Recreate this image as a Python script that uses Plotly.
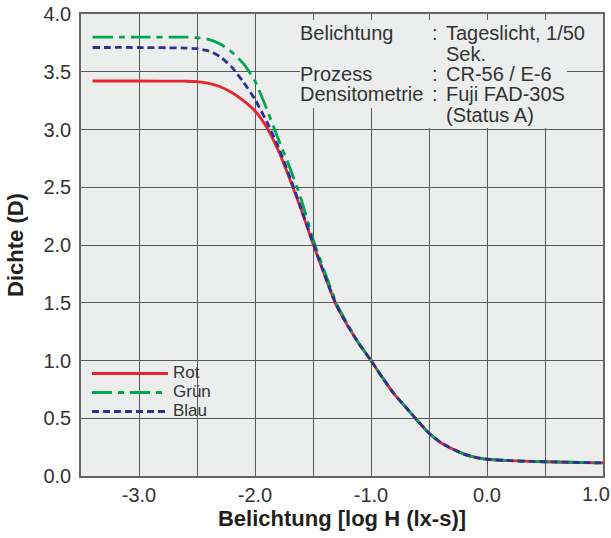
import plotly.graph_objects as go

# ---------------- data ----------------
log_h = [-3.4, -3.0, -2.6, -2.5, -2.4, -2.3, -2.2, -2.1, -2.0, -1.9, -1.8, -1.7,
         -1.6, -1.5, -1.4, -1.3, -1.2, -1.1, -1.0, -0.9, -0.8, -0.7, -0.6, -0.5,
         -0.4, -0.3, -0.2, -0.1, 0.0, 0.2, 0.4, 0.6, 0.8, 1.0]

rot = [3.42, 3.42, 3.418, 3.415, 3.40, 3.37, 3.32, 3.25, 3.16, 3.02, 2.82, 2.57,
       2.30, 2.01, 1.74, 1.48, 1.30, 1.14, 1.00, 0.85, 0.71, 0.595, 0.48, 0.37,
       0.29, 0.235, 0.19, 0.162, 0.145, 0.133, 0.126, 0.121, 0.117, 0.113]

gruen = [3.80, 3.80, 3.80, 3.795, 3.78, 3.74, 3.67, 3.57, 3.42, 3.18, 2.92, 2.67,
         2.39, 2.05, 1.77, 1.50, 1.31, 1.14, 1.00, 0.85, 0.71, 0.595, 0.48, 0.37,
         0.29, 0.235, 0.19, 0.162, 0.145, 0.133, 0.126, 0.121, 0.117, 0.113]

blau = [3.71, 3.71, 3.705, 3.70, 3.68, 3.63, 3.54, 3.41, 3.26, 3.07, 2.85, 2.59,
        2.31, 2.02, 1.74, 1.485, 1.30, 1.14, 1.00, 0.85, 0.71, 0.595, 0.48, 0.37,
        0.29, 0.235, 0.19, 0.162, 0.145, 0.133, 0.126, 0.121, 0.117, 0.113]

series_names = ["Rot", "Grün", "Blau"]

x_tickvals = [-3.5, -3.0, -2.5, -2.0, -1.5, -1.0, -0.5, 0.0, 0.5, 1.0]
x_ticktext = ["", "-3.0", "", "-2.0", "", "-1.0", "", "0.0", "", ""]
x_last_label = "1.0"   # drawn separately so that it stays inside the picture
y_tickvals = [0.0, 0.5, 1.0, 1.5, 2.0, 2.5, 3.0, 3.5, 4.0]
y_ticktext = ["0.0", "0.5", "1.0", "1.5", "2.0", "2.5", "3.0", "3.5", "4.0"]

info_labels = ["Belichtung", "Prozess", "Densitometrie"]
info_values = ["Tageslicht, 1/50", "Sek.", "CR-56 / E-6", "Fuji FAD-30S", "(Status A)"]

# ---------------- style ----------------
FONT = "Liberation Sans, Arial, Helvetica, sans-serif"
PLOT_BG = "#eceeee"
W, H = 611, 538
ML, MR, MT, MB = 81, 8, 14, 62
PW, PH = W - ML - MR, H - MT - MB


def px_x(px):
    return (px - ML) / PW


def px_y(py):
    return (H - MB - py) / PH


fig = go.Figure()
styles = [
    dict(color="#e8262e", width=2.8),
    dict(color="#00a650", width=2.8, dash="20px,6px,6px,6px"),
    dict(color="#2e3192", width=2.8, dash="7px,4px"),
]
for name, ys, st in zip(series_names, [rot, gruen, blau], styles):
    fig.add_trace(go.Scatter(
        x=log_h, y=ys, mode="lines", name='<span style="font-size:17px">%s</span>' % name,
        line=dict(shape="spline", smoothing=0.6, **st), hoverinfo="skip",
    ))

# ---- info text block ----
annos = []
txt_font = dict(family=FONT, size=20, color="#333333")


def bg(left, right, top, bottom):
    # background patch (same colour as plot area) hiding the grid behind the text block
    annos.append(dict(
        text=" ", xref="paper", yref="paper",
        x=px_x(left), y=px_y(top), xanchor="left", yanchor="top",
        width=right - left, height=bottom - top,
        showarrow=False, bgcolor=PLOT_BG, borderpad=0, borderwidth=0, font=txt_font,
    ))


def txt(text, xpx, ypx, xanchor="left"):
    annos.append(dict(
        text=text, xref="paper", yref="paper",
        x=px_x(xpx), y=px_y(ypx), xanchor=xanchor, yanchor="middle",
        showarrow=False, borderpad=0, borderwidth=0, font=txt_font,
    ))


rows = [33, 53.5, 74, 94.5, 115]
bg(300, 446, 20, 108)
bg(424, 446, 108, 128)
bg(446, 600, 20, 61)
bg(446, 567, 61, 84)
bg(446, 600, 84, 128)

txt(info_labels[0], 300, rows[0])
txt(info_labels[1], 300, rows[2])
txt(info_labels[2], 300, rows[3])
for r in (rows[0], rows[2], rows[3]):
    txt(":", 434.5, r, xanchor="center")
for v, r in zip(info_values, rows):
    txt(v, 446, r)

# last x tick label, right-aligned to the picture edge like in the reference
annos.append(dict(
    text=x_last_label, xref="paper", yref="paper",
    x=px_x(610), y=px_y(494), xanchor="right", yanchor="middle",
    showarrow=False, borderpad=0, borderwidth=0,
    font=dict(family=FONT, size=20, color="#333333"),
))

axis_common = dict(
    showline=True, mirror=True, linecolor="#666666", linewidth=1.5,
    showgrid=True, gridcolor="#5a5a5a", gridwidth=1.2, zeroline=False,
    ticks="", tickfont=dict(family=FONT, size=20, color="#333333"),
)

fig.update_layout(
    width=W, height=H,
    margin=dict(l=ML, r=MR, t=MT, b=MB, autoexpand=False),
    paper_bgcolor="white", plot_bgcolor=PLOT_BG,
    font=dict(family=FONT, color="#333333"),
    showlegend=True,
    legend=dict(
        x=px_x(87), y=px_y(359), xanchor="left", yanchor="top",
        bgcolor="rgba(0,0,0,0)", borderwidth=0, itemwidth=76,
        font=dict(family=FONT, size=12, color="#333333"),
        tracegroupgap=0,
    ),
    xaxis=dict(
        range=[-3.5, 1.0], tickmode="array", tickvals=x_tickvals, ticktext=x_ticktext,
        ticklabelstandoff=0,
        title=dict(text="<b>Belichtung [log H (lx-s)]</b>", standoff=4,
                   font=dict(family=FONT, size=22, color="#231f20")),
        **axis_common,
    ),
    yaxis=dict(
        range=[0, 4.0], tickmode="array", tickvals=y_tickvals, ticktext=y_ticktext,
        ticklabelstandoff=4,
        title=dict(text="<b>Dichte (D)</b>", standoff=14,
                   font=dict(family=FONT, size=22, color="#231f20")),
        **axis_common,
    ),
    annotations=annos,
)

fig.write_html("out.html")
